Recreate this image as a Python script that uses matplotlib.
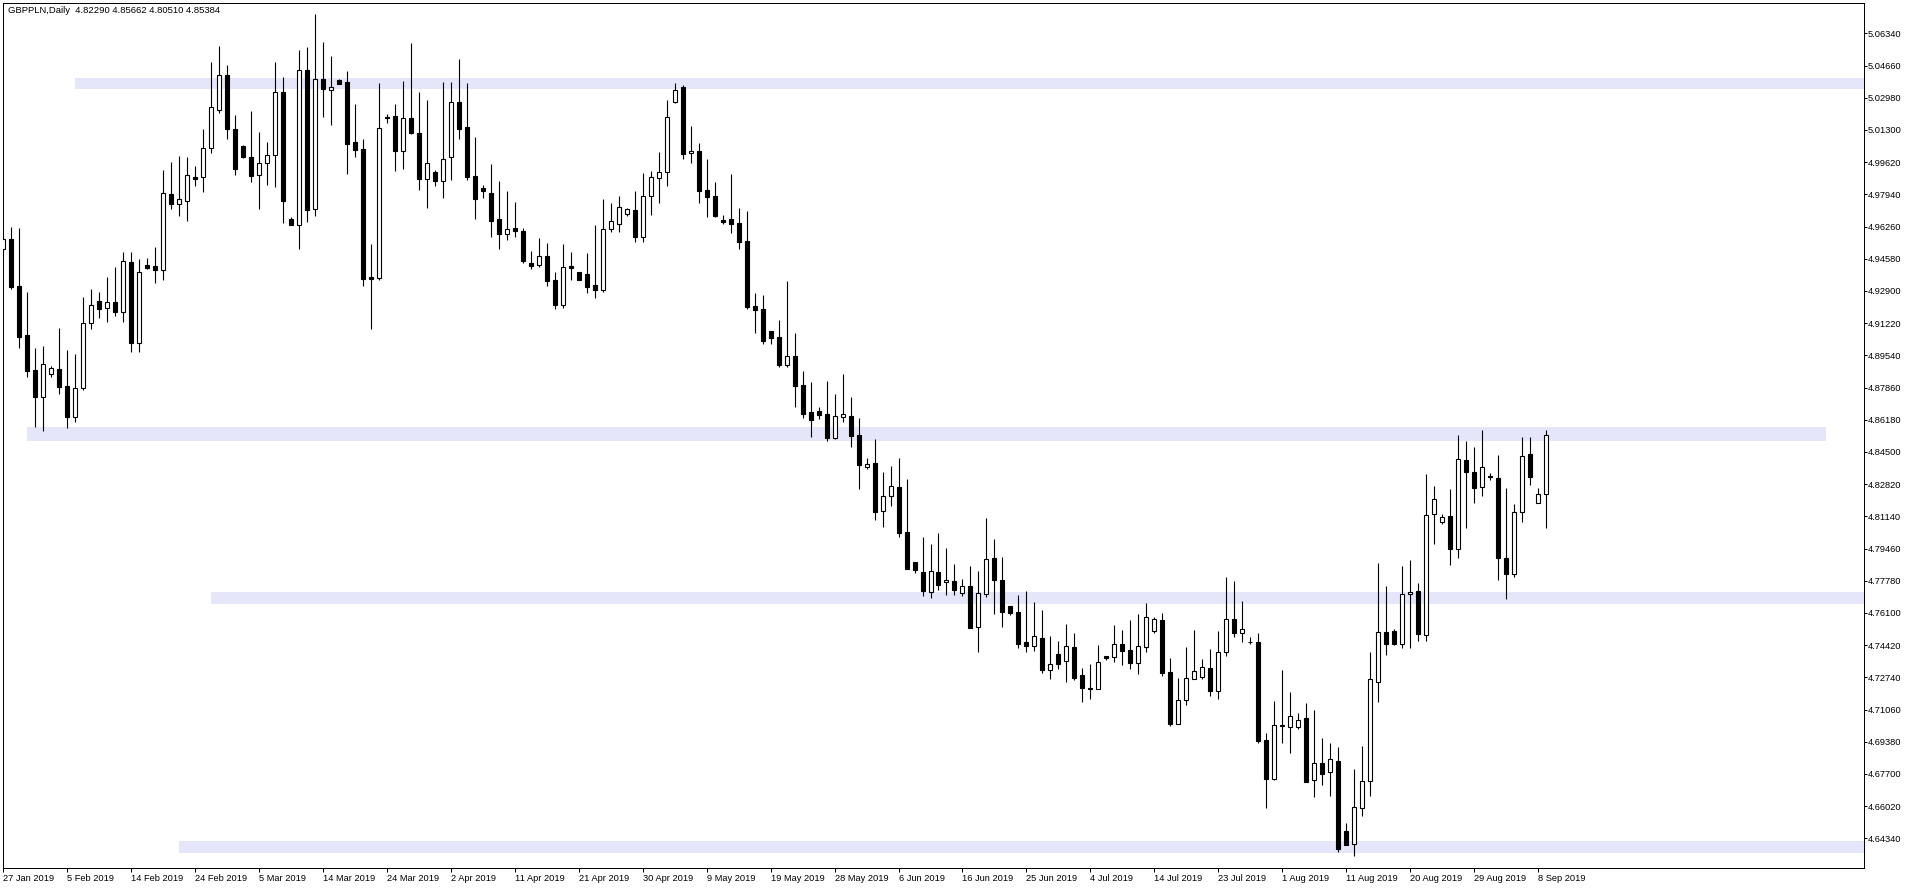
import numpy as np
import matplotlib.pyplot as plt

symbol = 'GBPPLN,Daily'

# one label every 8 bars (broker has Sun..Fri daily bars)
label_step = 8
date_labels = ['27 Jan 2019', '5 Feb 2019', '14 Feb 2019', '24 Feb 2019', '5 Mar 2019',
               '14 Mar 2019', '24 Mar 2019', '2 Apr 2019', '11 Apr 2019', '21 Apr 2019',
               '30 Apr 2019', '9 May 2019', '19 May 2019', '28 May 2019', '6 Jun 2019',
               '16 Jun 2019', '25 Jun 2019', '4 Jul 2019', '14 Jul 2019', '23 Jul 2019',
               '1 Aug 2019', '11 Aug 2019', '20 Aug 2019', '29 Aug 2019', '8 Sep 2019']

opens = [4.9511, 4.9560, 4.9316, 4.9061, 4.8878, 4.8739, 4.8855, 4.8881, 4.8794, 4.8631,
         4.8782, 4.9121, 4.9238, 4.9200, 4.9231, 4.9182, 4.9440, 4.9017, 4.9424, 4.9420,
         4.9398, 4.9794, 4.9742, 4.9761, 4.9885, 4.9883, 5.0034, 5.0233, 5.0415, 5.0135,
         5.0046, 4.9989, 4.9894, 4.9956, 4.9998, 5.0326, 4.9666, 4.9636, 5.0441, 4.9719,
         5.0394, 5.0340, 5.0391, 5.0380, 5.0067, 5.0031, 4.9363, 4.9359, 5.0195, 5.0203,
         5.0022, 5.0192, 5.0114, 4.9876, 4.9911, 4.9862, 4.9987, 5.0274, 5.0145, 4.9890,
         4.9827, 4.9801, 4.9666, 4.9585, 4.9617, 4.9603, 4.9436, 4.9427, 4.9471, 4.9347,
         4.9219, 4.9419, 4.9389, 4.9377, 4.9319, 4.9297, 4.9612, 4.9638, 4.9690, 4.9711,
         4.9570, 4.9784, 4.9878, 4.9909, 5.0274, 5.0352, 5.0008, 5.0020, 4.9817, 4.9785,
         4.9659, 4.9666, 4.9645, 4.9551, 4.9212, 4.9196, 4.9081, 4.9050, 4.8906, 4.8951,
         4.8800, 4.8659, 4.8664, 4.8648, 4.8525, 4.8631, 4.8638, 4.8539, 4.8374, 4.8393,
         4.8144, 4.8219, 4.8267, 4.8033, 4.7876, 4.7824, 4.7721, 4.7824, 4.7770, 4.7777,
         4.7713, 4.7749, 4.7539, 4.7711, 4.7895, 4.7781, 4.7645, 4.7614, 4.7459, 4.7436,
         4.7480, 4.7314, 4.7396, 4.7357, 4.7432, 4.7286, 4.7218, 4.7214, 4.7383, 4.7378,
         4.7446, 4.7416, 4.7350, 4.7435, 4.7514, 4.7573, 4.7300, 4.7032, 4.7154, 4.7263,
         4.7274, 4.7322, 4.7204, 4.7404, 4.7576, 4.7503, 4.7461, 4.7456, 4.6945, 4.6745,
         4.7021, 4.7016, 4.7016, 4.7060, 4.6736, 4.6825, 4.6779, 4.6836, 4.6471, 4.6403,
         4.6591, 4.6732, 4.7248, 4.7509, 4.7514, 4.7450, 4.7707, 4.7723, 4.7497, 4.8125,
         4.8083, 4.8114, 4.7946, 4.8406, 4.8344, 4.8266, 4.8323, 4.8313, 4.7895, 4.7812,
         4.8135, 4.8438, 4.8182, 4.82290]

highs = [4.9590, 4.9622, 4.9617, 4.9285, 4.8991, 4.9003, 4.8899, 4.9095, 4.8982, 4.8961,
         4.9261, 4.9299, 4.9285, 4.9363, 4.9415, 4.9494, 4.9494, 4.9457, 4.9460, 4.9520,
         4.9921, 4.9963, 4.9994, 4.9989, 4.9944, 5.0137, 5.0485, 5.0568, 5.0469, 5.0208,
         5.0049, 5.0229, 5.0120, 5.0067, 5.0485, 5.0405, 4.9678, 5.0547, 5.0563, 5.0735,
         5.0589, 5.0516, 5.0396, 5.0438, 5.0265, 5.0083, 4.9535, 5.0375, 5.0213, 5.0265,
         5.0385, 5.0584, 5.0328, 5.0288, 4.9921, 5.0380, 5.0380, 5.0498, 5.0375, 5.0093,
         4.9843, 4.9952, 4.9864, 4.9812, 4.9754, 4.9620, 4.9499, 4.9566, 4.9540, 4.9389,
         4.9535, 4.9492, 4.9389, 4.9488, 4.9634, 4.9770, 4.9747, 4.9785, 4.9723, 4.9812,
         4.9906, 4.9916, 5.0015, 5.0286, 5.0375, 5.0365, 5.0151, 5.0062, 4.9979, 4.9859,
         4.9686, 4.9900, 4.9723, 4.9707, 4.9279, 4.9269, 4.9081, 4.9139, 4.9342, 4.9071,
         4.8870, 4.8815, 4.8685, 4.8820, 4.8753, 4.8857, 4.8737, 4.8627, 4.8419, 4.8518,
         4.8346, 4.8377, 4.8419, 4.8309, 4.7876, 4.8007, 4.7970, 4.8027, 4.7949, 4.7866,
         4.7787, 4.7855, 4.7829, 4.8106, 4.7996, 4.7902, 4.7645, 4.7704, 4.7725, 4.7667,
         4.7626, 4.7490, 4.7464, 4.7552, 4.7505, 4.7322, 4.7343, 4.7442, 4.7383, 4.7547,
         4.7520, 4.7573, 4.7604, 4.7661, 4.7587, 4.7609, 4.7374, 4.7270, 4.7432, 4.7520,
         4.7369, 4.7421, 4.7515, 4.7797, 4.7776, 4.7672, 4.7487, 4.7505, 4.6985, 4.7150,
         4.7312, 4.7197, 4.7087, 4.7140, 4.7103, 4.6957, 4.6930, 4.6909, 4.6513, 4.6796,
         4.6916, 4.7407, 4.7871, 4.7751, 4.7527, 4.7855, 4.7887, 4.7767, 4.8335, 4.8273,
         4.8127, 4.8257, 4.8539, 4.8507, 4.8474, 4.8565, 4.8340, 4.8434, 4.8262, 4.8179,
         4.8528, 4.8528, 4.8262, 4.85662]

lows = [4.9490, 4.9302, 4.8991, 4.8840, 4.8582, 4.8560, 4.8843, 4.8753, 4.8574, 4.8605,
        4.8774, 4.9090, 4.9147, 4.9130, 4.9161, 4.9127, 4.8974, 4.8974, 4.9405, 4.9334,
        4.9347, 4.9718, 4.9683, 4.9657, 4.9838, 4.9808, 5.0012, 5.0220, 5.0081, 4.9897,
        4.9984, 4.9860, 4.9720, 4.9845, 4.9834, 4.9646, 4.9636, 4.9511, 4.9652, 4.9681,
        5.0199, 5.0156, 5.0372, 4.9902, 4.9991, 4.9318, 4.9093, 4.9347, 5.0168, 4.9916,
        4.9926, 5.0107, 4.9817, 4.9725, 4.9839, 4.9775, 4.9869, 5.0085, 4.9869, 4.9666,
        4.9777, 4.9572, 4.9511, 4.9558, 4.9572, 4.9438, 4.9406, 4.9417, 4.9318, 4.9198,
        4.9201, 4.9349, 4.9349, 4.9281, 4.9255, 4.9286, 4.9599, 4.9599, 4.9681, 4.9547,
        4.9547, 4.9688, 4.9751, 4.9839, 5.0272, 4.9980, 4.9959, 4.9751, 4.9678, 4.9678,
        4.9641, 4.9592, 4.9511, 4.9196, 4.9073, 4.9013, 4.9013, 4.8895, 4.8895, 4.8686,
        4.8629, 4.8530, 4.8622, 4.8509, 4.8520, 4.8607, 4.8478, 4.8257, 4.8363, 4.8097,
        4.8061, 4.8170, 4.8008, 4.7841, 4.7821, 4.7701, 4.7690, 4.7732, 4.7706, 4.7706,
        4.7701, 4.7534, 4.7408, 4.7695, 4.7605, 4.7539, 4.7601, 4.7429, 4.7408, 4.7414,
        4.7299, 4.7268, 4.7320, 4.7251, 4.7258, 4.7147, 4.7162, 4.7214, 4.7366, 4.7355,
        4.7340, 4.7319, 4.7293, 4.7404, 4.7508, 4.7282, 4.7021, 4.7032, 4.7131, 4.7263,
        4.7263, 4.7178, 4.7162, 4.7383, 4.7486, 4.7460, 4.7446, 4.6933, 4.6595, 4.6740,
        4.6933, 4.6881, 4.7006, 4.6729, 4.6651, 4.6712, 4.6657, 4.6365, 4.6398, 4.6340,
        4.6553, 4.6657, 4.7144, 4.7393, 4.7445, 4.7429, 4.7429, 4.7466, 4.7466, 4.7970,
        4.8074, 4.7862, 4.7899, 4.8055, 4.8186, 4.8222, 4.8306, 4.7784, 4.7685, 4.7800,
        4.8087, 4.8280, 4.8182, 4.80510]

closes = [4.9560, 4.9313, 4.9052, 4.8874, 4.8739, 4.8907, 4.8887, 4.8791, 4.8631, 4.8782,
          4.9121, 4.9215, 4.9198, 4.9231, 4.9182, 4.9445, 4.9017, 4.9387, 4.9412, 4.9401,
          4.9800, 4.9742, 4.9768, 4.9894, 4.9876, 5.0036, 5.0252, 5.0415, 5.0133, 4.9928,
          4.9987, 4.9892, 4.9956, 4.9998, 5.0326, 4.9761, 4.9636, 5.0441, 4.9714, 5.0394,
          5.0345, 5.0352, 5.0372, 5.0057, 5.0025, 4.9354, 4.9354, 5.0140, 5.0197, 5.0022,
          5.0192, 5.0116, 4.9876, 4.9956, 4.9865, 4.9977, 5.0274, 5.0137, 4.9886, 4.9772,
          4.9813, 4.9657, 4.9589, 4.9612, 4.9605, 4.9448, 4.9422, 4.9471, 4.9344, 4.9219,
          4.9413, 4.9412, 4.9349, 4.9312, 4.9297, 4.9612, 4.9653, 4.9726, 4.9716, 4.9570,
          4.9784, 4.9883, 4.9909, 5.0196, 5.0337, 5.0006, 5.0020, 4.9813, 4.9782, 4.9683,
          4.9652, 4.9641, 4.9546, 4.9206, 4.9193, 4.9031, 4.9046, 4.8906, 4.8951, 4.8796,
          4.8650, 4.8617, 4.8643, 4.8523, 4.8638, 4.8647, 4.8535, 4.8384, 4.8386, 4.8139,
          4.8220, 4.8271, 4.8029, 4.7841, 4.7836, 4.7727, 4.7829, 4.7758, 4.7782, 4.7732,
          4.7749, 4.7534, 4.7713, 4.7890, 4.7784, 4.7617, 4.7608, 4.7450, 4.7440, 4.7488,
          4.7314, 4.7342, 4.7346, 4.7440, 4.7272, 4.7220, 4.7214, 4.7352, 4.7376, 4.7446,
          4.7413, 4.7350, 4.7440, 4.7587, 4.7576, 4.7298, 4.7032, 4.7154, 4.7270, 4.7305,
          4.7326, 4.7204, 4.7404, 4.7576, 4.7503, 4.7524, 4.7456, 4.6943, 4.6745, 4.7023,
          4.7025, 4.7075, 4.7054, 4.6729, 4.6825, 4.6771, 4.6847, 4.6381, 4.6398, 4.6596,
          4.6732, 4.7264, 4.7509, 4.7450, 4.7450, 4.7707, 4.7718, 4.7502, 4.8120, 4.8203,
          4.8109, 4.7946, 4.8412, 4.8344, 4.8260, 4.8370, 4.8318, 4.7899, 4.7812, 4.8135,
          4.8427, 4.8318, 4.8233, 4.85384]

# support / resistance rectangles drawn on the chart (bar index range, price range)
band_from = [9, 3, 26, 22]
band_to = [240, 228, 240, 240]
band_lo = [5.0343, 4.8507, 4.7657, 4.6357]
band_hi = [5.0402, 4.8580, 4.7719, 4.6420]

price_top = 5.0634
price_step = 0.0168
n_price_ticks = 26

plt.rcParams['font.family'] = ['Liberation Sans', 'DejaVu Sans']
plt.rcParams['font.size'] = 6.7

W, H = 1916, 888
fig = plt.figure(figsize=(W / 100, H / 100), dpi=100)
left_px, right_px, top_px, bottom_px = 2.7, 1863.5, 2.7, 867.5
ax = fig.add_axes([left_px / W, 1 - bottom_px / H,
                   (right_px - left_px) / W, (bottom_px - top_px) / H])

o = np.array(opens)
h = np.array(highs)
l = np.array(lows)
c = np.array(closes)
idx = np.arange(len(o))

for f, t, lo, hi in zip(band_from, band_to, band_lo, band_hi):
    ax.fill_between([f, t], lo, hi, color='#E6E6FA', lw=0, zorder=1)

ax.vlines(idx, l, h, colors='black', linewidth=0.8, zorder=2)
up = c >= o
faces = np.where(up, 'white', 'black')
ax.bar(idx, np.abs(c - o), bottom=np.minimum(o, c), width=0.5,
       color=faces, edgecolor='black', linewidth=0.8, zorder=3)

ax.set_xlim(0.05, 232.65)
ax.set_ylim(4.6282, 5.0794)

yt = np.round(price_top - price_step * np.arange(n_price_ticks), 5)
ax.yaxis.tick_right()
ax.set_yticks(yt)
ax.set_yticklabels([f'{v:.5f}' for v in yt])
ax.tick_params(axis='y', length=2.5, width=0.72, pad=0.8, colors='black')

ax.set_xticks(np.arange(0, len(o), label_step))
ax.set_xticklabels(date_labels)
ax.tick_params(axis='x', length=3, width=0.72, pad=1.5, colors='black')
for lbl in ax.get_xticklabels():
    lbl.set_horizontalalignment('left')

for sp in ax.spines.values():
    sp.set_linewidth(0.72)
    sp.set_color('black')

title = f'{symbol}  {opens[-1]:.5f} {highs[-1]:.5f} {lows[-1]:.5f} {closes[-1]:.5f}'
fig.text(8 / W, 1 - 13 / H, title, ha='left', va='baseline', fontsize=6.8)

fig.savefig('out.png', dpi=100)
